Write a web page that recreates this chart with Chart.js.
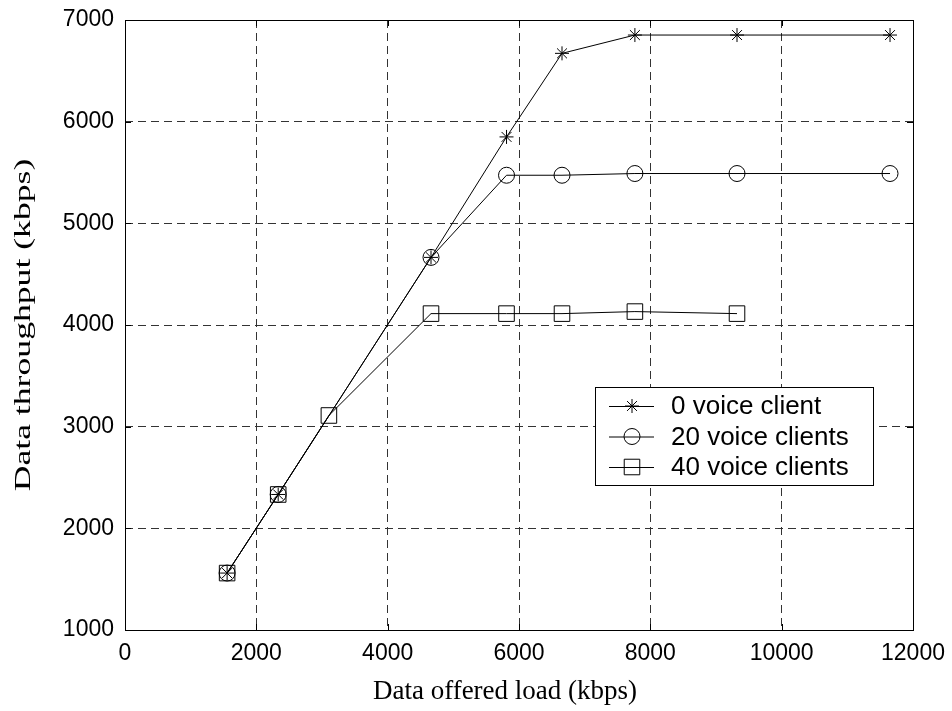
<!DOCTYPE html>
<html>
<head>
<meta charset="utf-8">
<title>Data throughput vs offered load</title>
<script src="https://cdn.jsdelivr.net/npm/chart.js@4"></script>
<style>
  html, body { margin: 0; padding: 0; background: #fff; }
  #wrap { width: 952px; height: 711px; position: relative; }
</style>
</head>
<body>
<div id="wrap"><canvas id="chart"></canvas></div>
<script>
// --- DATOS ---
const xTicks = [0, 2000, 4000, 6000, 8000, 10000, 12000];
const yTicks = [1000, 2000, 3000, 4000, 5000, 6000, 7000];

const seriesNames = ['0 voice client', '20 voice clients', '40 voice clients'];

const load0 = [1555, 2333, 4660, 5810, 6655, 7765, 9320, 11650];
const thr0 = [1560, 2333, 4665, 5850, 6672, 6852, 6852, 6852];

const load20 = [1555, 2333, 4660, 5810, 6655, 7765, 9320, 11650];
const thr20 = [1560, 2333, 4665, 5473, 5473, 5490, 5490, 5490];

const load40 = [1555, 2333, 3105, 4660, 5810, 6655, 7765, 9320];
const thr40 = [1560, 2333, 3110, 4112, 4112, 4112, 4132, 4112];

const toPts = (xs, ys) => xs.map((x, i) => ({ x: x, y: ys[i] }));

// estilos de marcador (estilo MATLAB)
const markers = [
    { style: 'star', radius: 7 },
    { style: 'circle', radius: 8 },
    { style: 'rect', radius: 11 }
];

const sansFam = '"Liberation Sans", Arial, sans-serif';
const serifFam = '"Liberation Serif", "Times New Roman", serif';

// --- PLUGIN: caja del eje, títulos y leyenda ---
const boxAndLegend = {
    id: 'boxAndLegend',
    afterDraw(chart) {
        const ctx = chart.ctx;
        const a = chart.chartArea;
        ctx.save();
        ctx.setLineDash([]);
        ctx.strokeStyle = '#000';
        ctx.lineWidth = 1;
        ctx.strokeRect(a.left + 0.5, a.top + 0.5, a.right - a.left, a.bottom - a.top);

        // marcas de tick hacia dentro
        const xs = chart.scales.x, ys = chart.scales.y;
        ctx.beginPath();
        xTicks.forEach(v => {
            const px = Math.round(xs.getPixelForValue(v)) + 0.5;
            ctx.moveTo(px, a.bottom); ctx.lineTo(px, a.bottom - 6);
            ctx.moveTo(px, a.top); ctx.lineTo(px, a.top + 6);
        });
        yTicks.forEach(v => {
            const py = Math.round(ys.getPixelForValue(v)) + 0.5;
            ctx.moveTo(a.left, py); ctx.lineTo(a.left + 6, py);
            ctx.moveTo(a.right, py); ctx.lineTo(a.right - 6, py);
        });
        ctx.stroke();

        ctx.fillStyle = '#000';
        ctx.textAlign = 'center';
        ctx.textBaseline = 'middle';

        // título del eje X
        ctx.font = '27px ' + serifFam;
        ctx.fillText('Data offered load (kbps)', 505, 692);

        // título del eje Y (estirado a lo largo, como en el original)
        ctx.save();
        ctx.translate(24, (a.top + a.bottom) / 2);
        ctx.rotate(-Math.PI / 2);
        ctx.scale(1.55, 1);
        ctx.font = '23px ' + serifFam;
        ctx.fillText('Data throughput (kbps)', 0, 0);
        ctx.restore();

        // leyenda
        const lx = 595, ly = 387, lw = 278, lh = 98;
        ctx.textAlign = 'left';
        ctx.fillStyle = '#fff';
        ctx.fillRect(lx, ly, lw, lh);
        ctx.strokeRect(lx + 0.5, ly + 0.5, lw, lh);
        ctx.font = '26px ' + sansFam;
        seriesNames.forEach((name, i) => {
            const cy = 406 + i * 30.5;
            ctx.beginPath();
            ctx.moveTo(609, cy + 0.5); ctx.lineTo(654, cy + 0.5);
            ctx.stroke();
            ctx.fillStyle = 'rgba(0,0,0,0)';
            Chart.helpers.drawPoint(ctx, {
                pointStyle: markers[i].style,
                radius: markers[i].radius,
                rotation: 0,
                borderWidth: 1
            }, 632, cy);
            ctx.fillStyle = '#000';
            ctx.fillText(name, 671, cy + 1);
        });
        ctx.restore();
    }
};

// --- GRÁFICO ---
const mkDataset = (label, pts, i) => ({
    label: label,
    data: pts,
    showLine: true,
    borderColor: '#000',
    borderWidth: 1,
    backgroundColor: 'rgba(0,0,0,0)',
    pointStyle: markers[i].style,
    pointRadius: markers[i].radius,
    pointBorderColor: '#000',
    pointBorderWidth: 1,
    pointBackgroundColor: 'rgba(0,0,0,0)',
    tension: 0
});

const tickFont = { family: sansFam, size: 23 };
const plainNum = v => String(v);

new Chart(document.getElementById('chart'), {
    type: 'scatter',
    data: {
        datasets: [
            mkDataset(seriesNames[0], toPts(load0, thr0), 0),
            mkDataset(seriesNames[1], toPts(load20, thr20), 1),
            mkDataset(seriesNames[2], toPts(load40, thr40), 2)
        ]
    },
    options: {
        responsive: true,
        maintainAspectRatio: false,
        animation: false,
        layout: { padding: { left: 0, top: 20, right: 39, bottom: 0 } },
        plugins: { legend: { display: false }, tooltip: { enabled: false } },
        scales: {
            x: {
                type: 'linear',
                min: 0, max: 12000,
                afterBuildTicks: s => { s.ticks = xTicks.map(v => ({ value: v })); },
                afterFit: s => { s.height = 81; s.paddingLeft = 0; s.paddingRight = 0; },
                ticks: { color: '#000', font: tickFont, padding: 10, maxRotation: 0, callback: plainNum },
                grid: { color: '#333', lineWidth: 1, drawTicks: false },
                border: { display: false, dash: [8, 5] },
                title: { display: false }
            },
            y: {
                type: 'linear',
                min: 1000, max: 7000,
                afterBuildTicks: s => { s.ticks = yTicks.map(v => ({ value: v })); },
                afterFit: s => { s.width = 125; s.paddingTop = 0; s.paddingBottom = 0; },
                ticks: { color: '#000', font: tickFont, padding: 11, callback: plainNum },
                grid: { color: '#333', lineWidth: 1, drawTicks: false },
                border: { display: false, dash: [8, 5] },
                title: { display: false }
            }
        }
    },
    plugins: [boxAndLegend]
});
</script>
</body>
</html>
